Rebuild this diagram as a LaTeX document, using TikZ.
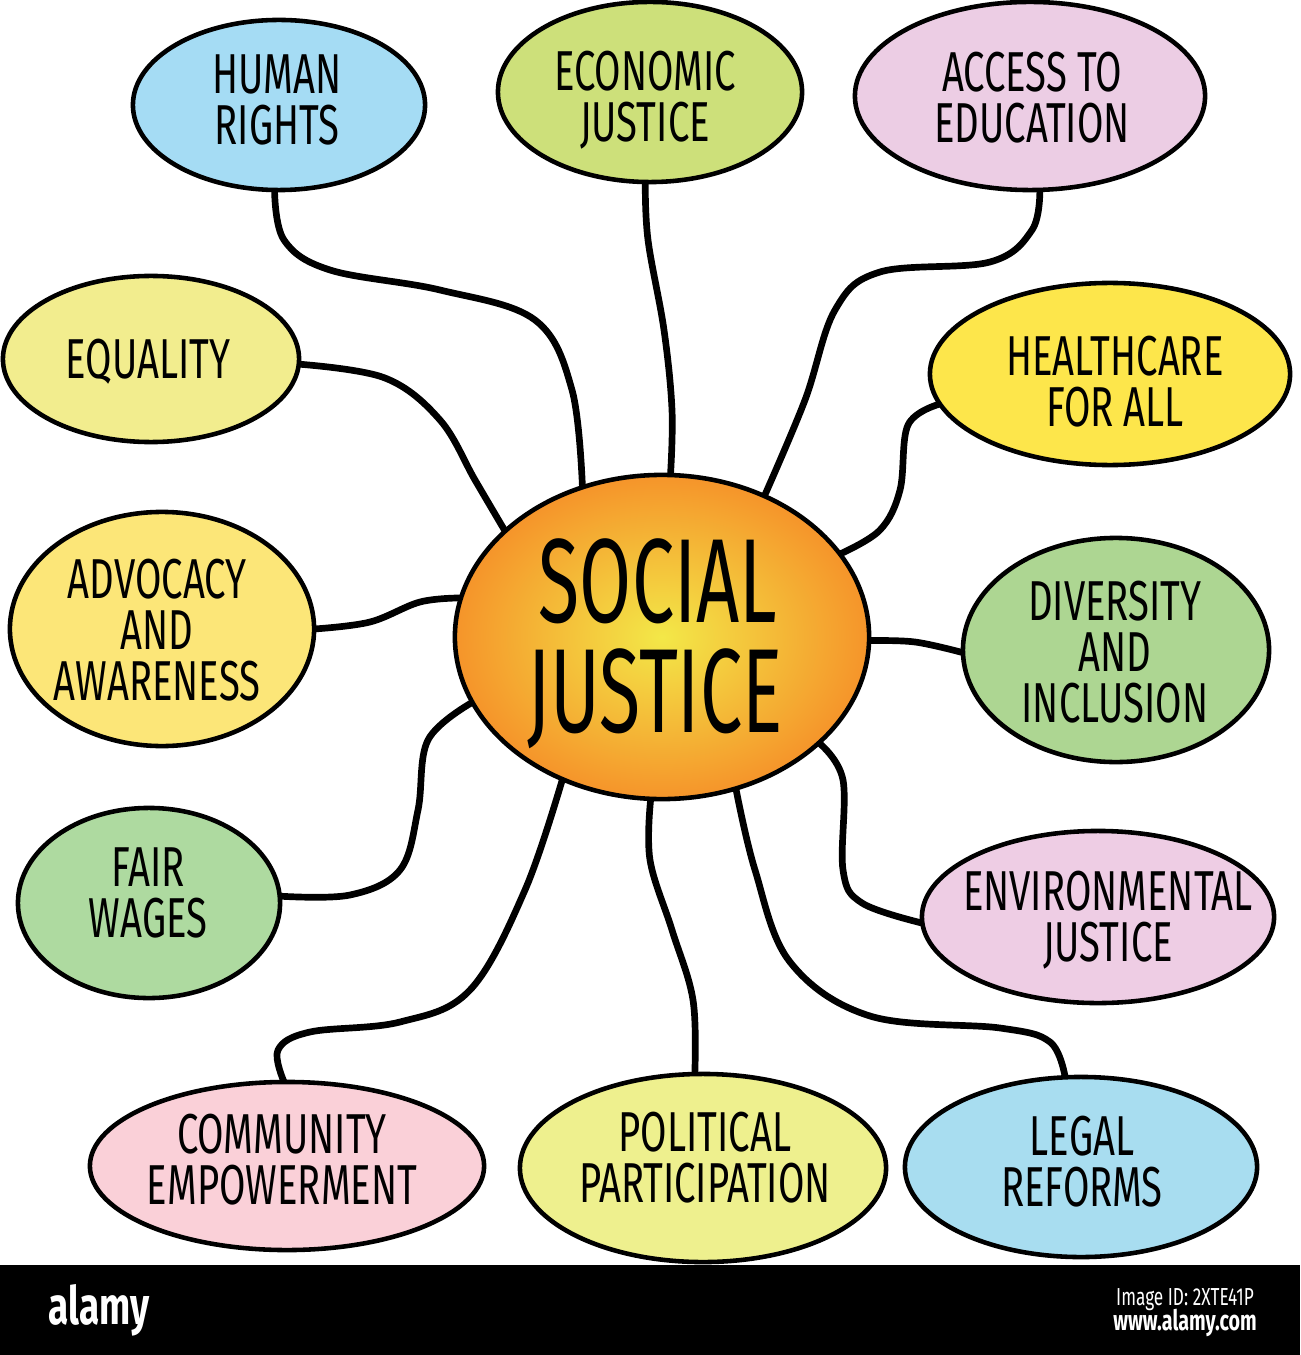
\documentclass[tikz,border=0pt]{standalone}
\usepackage{fontspec}
\setmainfont{Fira Sans}
\newfontfamily\handfont[FakeStretch=0.68]{Fira Sans}
\newfontfamily\bigfont[FakeStretch=0.63]{Fira Sans}
\newfontfamily\logofont[FakeStretch=0.7]{Fira Sans}
\usetikzlibrary{shapes.geometric,backgrounds}
\definecolor{cHR}{RGB}{165,220,244}
\definecolor{cEJ}{RGB}{205,224,122}
\definecolor{cAE}{RGB}{236,205,228}
\definecolor{cEQ}{RGB}{242,237,142}
\definecolor{cHC}{RGB}{253,230,75}
\definecolor{cAD}{RGB}{252,230,120}
\definecolor{cDI}{RGB}{173,214,146}
\definecolor{cFW}{RGB}{174,218,160}
\definecolor{cEN}{RGB}{238,205,228}
\definecolor{cCE}{RGB}{250,208,216}
\definecolor{cPP}{RGB}{238,240,142}
\definecolor{cLR}{RGB}{168,221,240}
\definecolor{sjIn}{RGB}{243,232,72}
\definecolor{sjOut}{RGB}{245,148,42}
\begin{document}
\begin{tikzpicture}[x=0.01cm,y=-0.01cm,
  bubble/.style={ellipse, draw=black, line width=1.3pt, inner sep=0pt, outer sep=0pt},
  lbl/.style={font=\handfont\fontsize{16}{14.5}\selectfont, align=center, inner sep=0pt},
  biglbl/.style={font=\bigfont\fontsize{34}{30}\selectfont, inner sep=0pt, anchor=base},
  conn/.style={line width=1.9pt, line cap=round, line join=round}]
\useasboundingbox (0,0) rectangle (1300,1355);

% bubbles
\node[bubble, fill=cHR, minimum width=2.92cm, minimum height=1.70cm] (hr) at (279,105) {};
\node[bubble, fill=cEJ, minimum width=3.04cm, minimum height=1.80cm] (ej) at (650,92) {};
\node[bubble, fill=cAE, minimum width=3.50cm, minimum height=1.88cm] (ae) at (1030,96) {};
\node[bubble, fill=cEQ, minimum width=2.96cm, minimum height=1.66cm] (eq) at (151,359) {};
\node[bubble, fill=cHC, minimum width=3.60cm, minimum height=1.82cm] (hc) at (1110,374) {};
\node[bubble, fill=cAD, minimum width=3.04cm, minimum height=2.34cm] (ad) at (162,629) {};
\node[bubble, shading=radial, inner color=sjIn, outer color=sjOut, minimum width=4.14cm, minimum height=3.24cm] (sj) at (662,637) {};
\node[bubble, fill=cDI, minimum width=3.06cm, minimum height=2.24cm] (di) at (1116,650) {};
\node[bubble, fill=cFW, minimum width=2.62cm, minimum height=1.90cm] (fw) at (149,903) {};
\node[bubble, fill=cEN, minimum width=3.52cm, minimum height=1.72cm] (en) at (1098,917) {};
\node[bubble, fill=cCE, minimum width=3.94cm, minimum height=1.68cm] (ce) at (287,1166) {};
\node[bubble, fill=cPP, minimum width=3.66cm, minimum height=1.88cm] (pp) at (703,1168) {};
\node[bubble, fill=cLR, minimum width=3.52cm, minimum height=1.80cm] (lr) at (1081,1167) {};

% labels
\node[lbl] (hrt) at (277,100) {HUMAN\\RIGHTS};
\node[lbl] (ejt) at (645,100) {ECONOMIC\\JUSTICE};
\node[lbl] (aet) at (1032,98) {ACCESS TO\\EDUCATION};
\node[lbl] (eqt) at (148,362) {EQUALITY};
\node[lbl] (hct) at (1115,382) {HEALTHCARE\\FOR ALL};
\node[lbl] (adt) at (157,630) {ADVOCACY\\AND\\AWARENESS};
\node[biglbl] (sjt1) at (658,622) {SOCIAL};
\node[biglbl] (sjt2) at (655,732) {JUSTICE};
\node[lbl] (dit) at (1115,652) {DIVERSITY\\AND\\INCLUSION};
\node[lbl] (fwt) at (148,893) {FAIR\\WAGES};
\node[lbl] (ent) at (1108,920) {ENVIRONMENTAL\\JUSTICE};
\node[lbl] (cet) at (282,1160) {COMMUNITY\\EMPOWERMENT};
\node[lbl] (ppt) at (705,1158) {POLITICAL\\PARTICIPATION};
\node[lbl] (lrt) at (1082,1162) {LEGAL\\REFORMS};

% connectors
\begin{pgfonlayer}{background}
\draw[conn] plot[smooth, tension=0.6] coordinates {(hr.-93) (284,240) (330,270) (440,290) (535,320) (572,390) (sj.118)};
\draw[conn] plot[smooth, tension=0.6] coordinates {(ej.-93) (648,240) (664,330) (672,410) (sj.87)};
\draw[conn] plot[smooth, tension=0.6] coordinates {(ae.-84) (1032,230) (990,262) (880,272) (835,310) (805,400) (sj.54)};
\draw[conn] plot[smooth, tension=0.6] coordinates {(eq.-2) (385,378) (440,420) (475,480) (sj.146)};
\draw[conn] plot[smooth, tension=0.6] coordinates {(hc.190) (908,425) (900,490) (880,530) (sj.25)};
\draw[conn] plot[smooth, tension=0.6] coordinates {(ad.east) (370,622) (420,602) (sj.169)};
\draw[conn] plot[smooth, tension=0.6] coordinates {(sj.-1) (915,642) (di.181)};
\draw[conn] plot[smooth, tension=0.6] coordinates {(fw.3) (350,895) (400,870) (418,810) (428,740) (sj.199)};
\draw[conn] plot[smooth, tension=0.6] coordinates {(sj.-34) (843,780) (843,870) (862,903) (en.182)};
\draw[conn] plot[smooth, tension=0.6] coordinates {(ce.92) (278,1050) (310,1032) (400,1022) (470,990) (525,890) (sj.235)};
\draw[conn] plot[smooth, tension=0.6] coordinates {(pp.95) (693,1000) (672,930) (650,860) (sj.-94)};
\draw[conn] plot[smooth, tension=0.6] coordinates {(lr.100) (1050,1042) (1000,1028) (870,1016) (790,962) (755,870) (sj.-64)};
\end{pgfonlayer}

% bottom bar
\fill[black] (0,1265) rectangle (1300,1355);
\node[font=\logofont\bfseries\fontsize{15}{15}\selectfont, text=white, anchor=west, inner sep=0pt] (logo) at (48,1310) {alamy};
\node[font=\logofont\fontsize{7}{7}\selectfont, text=white, inner sep=0pt] (imgid) at (1185,1300) {Image ID: 2XTE41P};
\node[font=\logofont\bfseries\fontsize{8}{8}\selectfont, text=white, inner sep=0pt] (www) at (1185,1323) {www.alamy.com};
\end{tikzpicture}
\end{document}
